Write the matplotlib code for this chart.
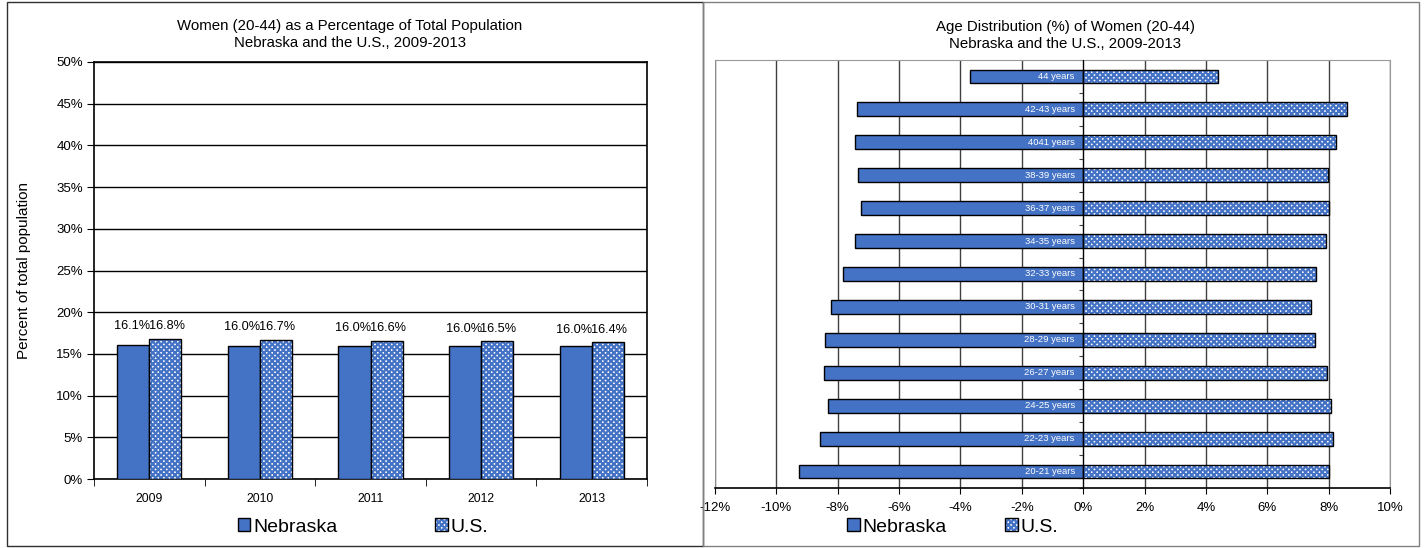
import matplotlib
matplotlib.use('Agg')
import matplotlib.pyplot as plt
from matplotlib.patches import Rectangle, Patch
from matplotlib.legend_handler import HandlerTuple
import numpy as np

plt.rcParams['font.family'] = ['Liberation Sans', 'DejaVu Sans']
plt.rcParams['hatch.linewidth'] = 1.6

# ---------------- data ----------------
years = ['2009', '2010', '2011', '2012', '2013']
ne_share = [16.1, 16.0, 16.0, 16.0, 16.0]
us_share = [16.8, 16.7, 16.6, 16.5, 16.4]

age_groups = ['20-21 years', '22-23 years', '24-25 years', '26-27 years',
              '28-29 years', '30-31 years', '32-33 years', '34-35 years',
              '36-37 years', '38-39 years', '4041 years', '42-43 years',
              '44 years']
ne_dist = [9.26, 8.57, 8.31, 8.44, 8.40, 8.21, 7.82, 7.43, 7.23, 7.33, 7.43, 7.37, 3.70]
us_dist = [8.01, 8.14, 8.08, 7.95, 7.56, 7.43, 7.58, 7.92, 8.02, 7.98, 8.24, 8.60, 4.41]

left_y_ticks = list(range(0, 51, 5))
right_x_ticks = list(range(-12, 11, 2))

BLUE = '#4472C4'
HATCH = 'xxxxxx'

W, H = 1424, 548
fig = plt.figure(figsize=(W / 100, H / 100), dpi=100)

def fx(px):
    return px / W

def fy(py):
    return 1 - py / H

# panel frames
fig.patches.append(Rectangle((fx(7), fy(546)), fx(703) - fx(7), fy(2) - fy(546),
                             transform=fig.transFigure, fill=False,
                             edgecolor='#303030', lw=1.0))
fig.patches.append(Rectangle((fx(703), fy(546)), fx(1419) - fx(703), fy(2) - fy(546),
                             transform=fig.transFigure, fill=False,
                             edgecolor='#808080', lw=1.0))

# ---------------- left chart ----------------
axL = fig.add_axes([fx(94), fy(479), fx(647) - fx(94), fy(62) - fy(479)])
x = np.arange(len(years))
bw = 0.29
axL.bar(x - bw / 2, ne_share, bw, color=BLUE, edgecolor='black', lw=1.0, zorder=3)
axL.bar(x + bw / 2, us_share, bw, color='white', edgecolor=BLUE, hatch=HATCH, lw=0, zorder=3)
axL.bar(x + bw / 2, us_share, bw, fill=False, edgecolor='black', lw=1.0, zorder=4)
for xi, a, b in zip(x, ne_share, us_share):
    top = max(a, b) + 0.8
    axL.annotate(f'{a:.1f}%', (xi - bw / 2, top), xytext=(-1, 0), textcoords='offset points',
                 ha='center', va='bottom', fontsize=9.2)
    axL.annotate(f'{b:.1f}%', (xi + bw / 2, top), xytext=(1, 0), textcoords='offset points',
                 ha='center', va='bottom', fontsize=9.2)
axL.set_xlim(-0.5, len(years) - 0.5)
axL.set_ylim(0, 50)
axL.set_yticks(left_y_ticks)
axL.set_yticklabels([f'{t}%' for t in left_y_ticks], fontsize=9.5)
axL.set_xticks(x)
axL.set_xticklabels(years, fontsize=8.8)
axL.set_xticks(np.arange(-0.5, len(years), 1), minor=True)
axL.tick_params(axis='x', which='major', length=0, pad=10)
axL.tick_params(axis='x', which='minor', length=5, direction='out', color='black')
axL.tick_params(axis='y', length=5, direction='out', pad=3)
axL.yaxis.grid(True, color='black', lw=1.0, zorder=1)
axL.set_axisbelow(True)
for s in axL.spines.values():
    s.set_color('black')
    s.set_linewidth(1.2)
axL.set_ylabel('Percent of total population', fontsize=11, labelpad=18)
axL.set_title('Women (20-44) as a Percentage of Total Population\nNebraska and the U.S., 2009-2013',
              fontsize=10.8, pad=11, linespacing=1.25, x=(350 - 94) / (647 - 94))

# ---------------- right chart ----------------
axR = fig.add_axes([fx(715), fy(488), fx(1390) - fx(715), fy(60) - fy(488)])
y = np.arange(len(age_groups))
bh = 0.42
ne_neg = [-v for v in ne_dist]
axR.barh(y, ne_neg, bh, color=BLUE, edgecolor='black', lw=1.0, zorder=3)
axR.barh(y, us_dist, bh, color='white', edgecolor=BLUE, hatch=HATCH, lw=0, zorder=3)
axR.barh(y, us_dist, bh, fill=False, edgecolor='black', lw=1.0, zorder=4)
for yi, lab in zip(y, age_groups):
    axR.annotate(lab, (0, yi), xytext=(-6, 0), textcoords='offset points',
                 ha='right', va='center', color='white', fontsize=6.8, zorder=5)
axR.set_xlim(-12, 10)
axR.set_ylim(-0.5, len(age_groups) - 0.5)
axR.set_xticks(right_x_ticks)
axR.set_xticklabels([f'{t}%' for t in right_x_ticks], fontsize=9.5)
axR.tick_params(axis='x', length=4, direction='out', pad=6)
axR.xaxis.grid(True, color='#404040', lw=1.0, zorder=1)
axR.set_axisbelow(True)
axR.spines['left'].set_position(('data', 0))
axR.spines['left'].set_color('black')
axR.spines['left'].set_zorder(6)
axR.set_yticks(np.arange(-0.5, len(age_groups), 1))
axR.set_yticklabels([])
axR.tick_params(axis='y', length=3, direction='out', color='#404040')
axR.axvline(-12, color='#999999', lw=1.2, zorder=2)
axR.spines['right'].set_color('#999999')
axR.spines['top'].set_color('#999999')
axR.spines['bottom'].set_color('black')
axR.spines['bottom'].set_linewidth(1.2)
axR.set_title('Age Distribution (%) of Women (20-44)\nNebraska and the U.S., 2009-2013',
              fontsize=10.8, pad=9, linespacing=1.25, x=(1065 - 715) / (1390 - 715))

# ---------------- legends ----------------
def make_handles():
    h1 = Patch(facecolor=BLUE, edgecolor='black', lw=1.0)
    h2 = Patch(facecolor='white', edgecolor=BLUE, hatch=HATCH, lw=0)
    h2o = Patch(fill=False, edgecolor='black', lw=1.0)
    return [h1, (h2, h2o)]

for cx, gap in ((363, 5.0), (953, 3.0)):
    fig.legend(make_handles(), ['Nebraska', 'U.S.'], loc='center',
               bbox_to_anchor=(fx(cx), fy(527)), ncol=2, frameon=False,
               fontsize=14, handlelength=0.65, handleheight=0.65,
               handletextpad=0.15, columnspacing=gap,
               handler_map={tuple: HandlerTuple(ndivide=1)})

fig.savefig('out.png', dpi=100)
